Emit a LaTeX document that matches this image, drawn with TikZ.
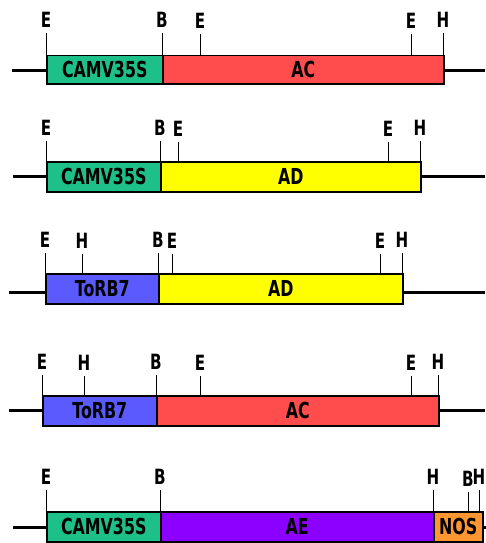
\documentclass[tikz,border=0pt]{standalone}
\usepackage{fontspec}
\usepackage{tikz}
\usetikzlibrary{positioning}
\newfontfamily\gelfont{DejaVu Sans}[FakeStretch=0.72]
\definecolor{camvgreen}{RGB}{30,192,138}
\definecolor{acred}{RGB}{255,76,76}
\definecolor{adyellow}{RGB}{255,255,0}
\definecolor{torblue}{RGB}{90,90,255}
\definecolor{aepurple}{RGB}{140,0,255}
\definecolor{nosorange}{RGB}{255,150,50}
\tikzset{
    segbox/.style={draw=black, line width=1.5pt, anchor=north west, inner sep=0pt,
        font=\gelfont\bfseries\fontsize{22}{22}\selectfont},
    site/.style={anchor=south, inner xsep=0pt, inner ysep=5pt,
        font=\gelfont\bfseries\fontsize{21}{21}\selectfont},
    tick/.style={line width=1pt},
    backbone/.style={line width=3pt}
}

\begin{document}
\begin{tikzpicture}[x=1pt, y=-1pt]
        \useasboundingbox (0,0) rectangle (485,543);

        % Row 1: CAMV35S - AC
        \coordinate (r1left) at (12,70);
        \coordinate (r1right) at (485,70);
        \node[segbox, fill=camvgreen, minimum width=116pt, minimum height=28pt] (r1camv) at (46,55) {CAMV35S};
        \node[segbox, fill=acred, minimum width=281pt, minimum height=28pt] (r1ac) at (162,55) {AC};
        \draw[backbone] (r1left) -- (r1left -| r1camv.west);
        \draw[backbone] (r1ac.east |- r1right) -- (r1right);
        \node[site] (r1e1) at (46,33) {E};
        \node[site] (r1b1) at (162,33) {B};
        \node[site] (r1e2) at (200,34) {E};
        \node[site] (r1e3) at (411,34) {E};
        \node[site] (r1h1) at (443,33) {H};
        \foreach \s in {r1e1,r1b1,r1e2,r1e3,r1h1}
            \draw[tick] (\s.south) -- (\s.south |- r1camv.north);

        % Row 2: CAMV35S - AD
        \coordinate (r2left) at (13,176);
        \coordinate (r2right) at (485,176);
        \node[segbox, fill=camvgreen, minimum width=114pt, minimum height=30pt] (r2camv) at (46,161) {CAMV35S};
        \node[segbox, fill=adyellow, minimum width=260pt, minimum height=30pt] (r2ad) at (160,161) {AD};
        \draw[backbone] (r2left) -- (r2left -| r2camv.west);
        \draw[backbone] (r2ad.east |- r2right) -- (r2right);
        \node[site] (r2e1) at (46,141) {E};
        \node[site] (r2b1) at (160,141) {B};
        \node[site] (r2e2) at (178,142) {E};
        \node[site] (r2e3) at (388,142) {E};
        \node[site] (r2h1) at (420,141) {H};
        \foreach \s in {r2e1,r2b1,r2e2,r2e3,r2h1}
            \draw[tick] (\s.south) -- (\s.south |- r2camv.north);

        % Row 3: ToRB7 - AD
        \coordinate (r3left) at (9,292);
        \coordinate (r3right) at (485,292);
        \node[segbox, fill=torblue, minimum width=113pt, minimum height=30pt] (r3tor) at (45,273) {ToRB7};
        \node[segbox, fill=adyellow, minimum width=244pt, minimum height=30pt] (r3ad) at (158,273) {AD};
        \draw[backbone] (r3left) -- (r3left -| r3tor.west);
        \draw[backbone] (r3ad.east |- r3right) -- (r3right);
        \node[site] (r3e1) at (45,253) {E};
        \node[site] (r3h1) at (82,254) {H};
        \node[site] (r3b1) at (158,253) {B};
        \node[site] (r3e2) at (172,254) {E};
        \node[site] (r3e3) at (380,254) {E};
        \node[site] (r3h2) at (402,253) {H};
        \foreach \s in {r3e1,r3h1,r3b1,r3e2,r3e3,r3h2}
            \draw[tick] (\s.south) -- (\s.south |- r3tor.north);

        % Row 4: ToRB7 - AC
        \coordinate (r4left) at (9,410);
        \coordinate (r4right) at (485,410);
        \node[segbox, fill=torblue, minimum width=114pt, minimum height=30pt] (r4tor) at (42,395) {ToRB7};
        \node[segbox, fill=acred, minimum width=282pt, minimum height=30pt] (r4ac) at (156,395) {AC};
        \draw[backbone] (r4left) -- (r4left -| r4tor.west);
        \draw[backbone] (r4ac.east |- r4right) -- (r4right);
        \node[site] (r4e1) at (42,375) {E};
        \node[site] (r4h1) at (84,376) {H};
        \node[site] (r4b1) at (156,375) {B};
        \node[site] (r4e2) at (200,376) {E};
        \node[site] (r4e3) at (411,376) {E};
        \node[site] (r4h2) at (438,375) {H};
        \foreach \s in {r4e1,r4h1,r4b1,r4e2,r4e3,r4h2}
            \draw[tick] (\s.south) -- (\s.south |- r4tor.north);

        % Row 5: CAMV35S - AE - NOS
        \coordinate (r5left) at (13,527);
        \coordinate (r5right) at (486,527);
        \node[segbox, fill=camvgreen, minimum width=114pt, minimum height=30pt] (r5camv) at (46,511) {CAMV35S};
        \node[segbox, fill=aepurple, minimum width=273pt, minimum height=30pt] (r5ae) at (160,511) {AE};
        \node[segbox, fill=nosorange, minimum width=49pt, minimum height=30pt] (r5nos) at (433,511) {NOS};
        \draw[backbone] (r5left) -- (r5left -| r5camv.west);
        \draw[backbone] (r5nos.east |- r5right) -- (r5right);
        \node[site] (r5e1) at (46,490) {E};
        \node[site] (r5b1) at (160,490) {B};
        \node[site] (r5h1) at (433,490) {H};
        \node[site] (r5b2) at (468,492) {B};
        \node[site] (r5h2) at (479,490) {H};
        \foreach \s in {r5e1,r5b1,r5h1,r5b2,r5h2}
            \draw[tick] (\s.south) -- (\s.south |- r5camv.north);

    \end{tikzpicture}
\end{document}
